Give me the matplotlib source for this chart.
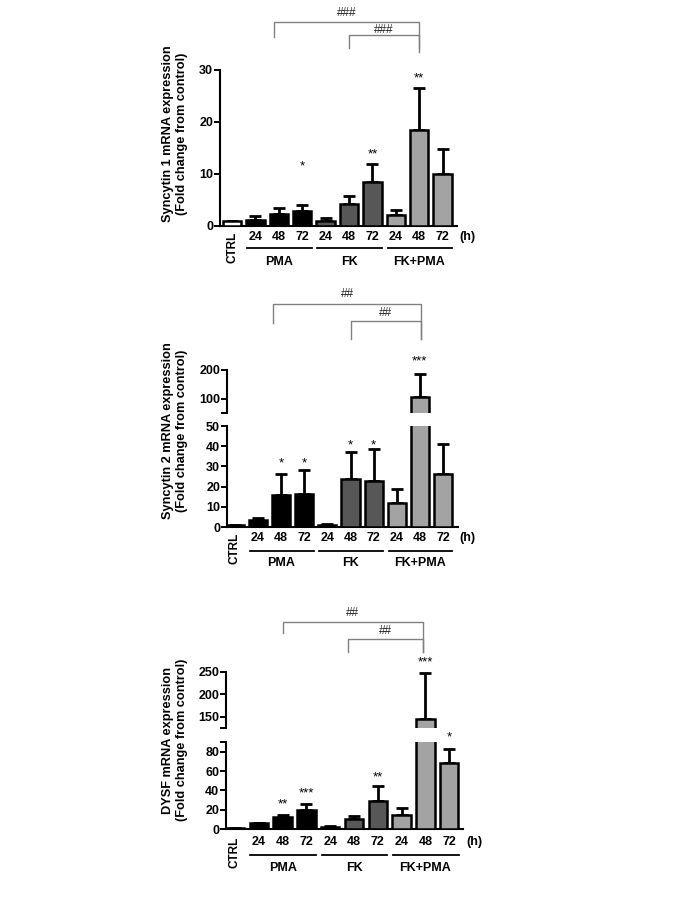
import numpy as np
import matplotlib
matplotlib.use('Agg')
import matplotlib.pyplot as plt
import matplotlib.transforms as mtransforms

plt.rcParams['font.family'] = ['Liberation Sans', 'DejaVu Sans']

# ================= DATA =================
CONDITIONS = ['CTRL', 'PMA 24', 'PMA 48', 'PMA 72', 'FK 24', 'FK 48', 'FK 72',
              'FK+PMA 24', 'FK+PMA 48', 'FK+PMA 72']
HOURS = ['24', '48', '72']
GROUPS = ['PMA', 'FK', 'FK+PMA']
COLORS = ['white'] + ['black'] * 3 + ['#575757'] * 3 + ['#a3a3a3'] * 3

# Syncytin 1
syn1_mean = [1.0, 1.2, 2.4, 2.9, 1.0, 4.3, 8.5, 2.1, 18.4, 10.0]
syn1_top = [np.nan, 2.0, 3.5, 4.0, 1.5, 5.8, 12.0, 3.0, 26.5, 14.8]
syn1_stars = [(3, '*', 11.5), (6, '**', 13.8), (8, '**', 28.3)]

# Syncytin 2
syn2_mean = [1.0, 3.5, 16.0, 16.5, 1.0, 24.0, 23.0, 12.0, 105.0, 26.0]
syn2_top = [np.nan, 4.5, 26.0, 28.0, 1.5, 37.0, 38.5, 19.0, 185.0, 41.0]
syn2_stars = [(2, '*', 31.7), (3, '*', 31.7), (5, '*', 40.6), (6, '*', 40.6), (8, '***', 231)]

# DYSF
dysf_mean = [1.0, 6.0, 12.0, 20.0, 2.0, 10.0, 29.0, 14.0, 145.0, 68.0]
dysf_top = [np.nan, 6.5, 14.0, 26.0, 3.0, 13.5, 44.0, 22.0, 248.0, 83.0]
dysf_stars = [(2, '**', 25.6), (3, '***', 37), (6, '**', 53), (8, '***', 272), (9, '*', 95)]

# ================= LAYOUT (pixels) =================
W, H = 683, 913
fig = plt.figure(figsize=(W / 100, H / 100), dpi=100)


def add_ax(left, top, right, bottom):
    return fig.add_axes([left / W, 1 - bottom / H, (right - left) / W, (bottom - top) / H])


def style_ax(ax, bottom=True):
    for s in ['top', 'right']:
        ax.spines[s].set_visible(False)
    ax.spines['left'].set_linewidth(1.5)
    ax.spines['bottom'].set_linewidth(1.5)
    if not bottom:
        ax.spines['bottom'].set_visible(False)
    ax.tick_params(axis='y', direction='out', length=4, width=1.4, labelsize=9, pad=1)
    ax.tick_params(axis='x', bottom=False, labelbottom=False)
    for lab in ax.get_yticklabels():
        lab.set_fontweight('bold')


def draw_bars(ax, mean, top, xlim):
    x = np.arange(len(mean))
    mean = np.array(mean)
    err = np.array(top) - mean
    ax.bar(x, mean, width=0.78, color=COLORS, edgecolor='black', linewidth=1.8, zorder=3)
    ax.errorbar(x, mean, yerr=[np.zeros_like(err), err], fmt='none', ecolor='black',
                elinewidth=2, capsize=4, capthick=2, zorder=2)
    ax.set_xlim(*xlim)


def draw_xlabels(ax, ax_h, off_num, off_line, off_grp):
    tr = mtransforms.blended_transform_factory(ax.transData, ax.transAxes)
    yn, yl, yg = -off_num / ax_h, -off_line / ax_h, -off_grp / ax_h
    ax.text(0, yn + 5 / ax_h, CONDITIONS[0], transform=tr, rotation=90, ha='center', va='top',
            fontsize=8.5, fontweight='bold')
    for g, name in enumerate(GROUPS):
        first = 1 + 3 * g
        for k, h in enumerate(HOURS):
            ax.text(first + k, yn, h, transform=tr, ha='center', va='center',
                    fontsize=9, fontweight='bold')
        ax.plot([first - 0.35, first + 2.4], [yl, yl], transform=tr, color='black',
                lw=1.3, clip_on=False)
        ax.text(first + 1, yg, name, transform=tr, ha='center', va='center',
                fontsize=9, fontweight='bold')
    ax.text(10.05, yn, '(h)', transform=tr, ha='center', va='center', fontsize=9,
            fontweight='bold')


def draw_stars(ax_lookup, stars):
    for idx, s, yv in stars:
        ax = ax_lookup(yv)
        ax.text(idx, yv, s, ha='center', va='center', fontsize=9.5, clip_on=False)


def draw_bracket(ax, x0, x1, y_line, y_left, y_right, label, y_text):
    tr = mtransforms.blended_transform_factory(ax.transData, fig.transFigure)
    f = lambda p: 1 - p / H
    ax.plot([x0, x0, x1, x1], [f(y_left), f(y_line), f(y_line), f(y_right)], transform=tr,
            color='#808080', lw=1.0, clip_on=False)
    ax.text((x0 + x1) / 2, f(y_text), label, transform=tr, ha='center', va='center',
            fontsize=8.5, color='#222222')


def ylabel(text, x, y):
    fig.text(x / W, 1 - y / H, text, rotation=90, ha='center', va='center',
             fontsize=9.2, fontweight='bold', multialignment='center', linespacing=1.3)


def xlim_for(left, c0, step, right):
    return (-(c0 - left) / step, (right - c0) / step)


# ================= PANEL 1 =================
ax1 = add_ax(220, 70, 457, 226)
draw_bars(ax1, syn1_mean, syn1_top, xlim_for(220, 232, 23.4, 457))
ax1.set_ylim(0, 30)
ax1.set_yticks([0, 10, 20, 30])
style_ax(ax1)
draw_xlabels(ax1, 156, 11, 22, 36)
draw_stars(lambda v: ax1, syn1_stars)
draw_bracket(ax1, 1.8, 8, 22, 37, 52, '###', 13)
draw_bracket(ax1, 5, 8, 35, 48, 48, '###', 30)
ylabel('Syncytin 1 mRNA expression\n(Fold change from control)', 175, 134)

# ================= PANEL 2 =================
xl2 = xlim_for(227, 235, 23.1, 458)
ax2u = add_ax(227, 370, 458, 413)
ax2l = add_ax(227, 426, 458, 527)
for a in (ax2u, ax2l):
    draw_bars(a, syn2_mean, syn2_top, xl2)
ax2u.set_ylim(50, 200)
ax2u.set_yticks([50, 100, 200])
ax2u.set_yticklabels(['', '100', '200'])
ax2l.set_ylim(0, 50)
ax2l.set_yticks([0, 10, 20, 30, 40, 50])
style_ax(ax2u, bottom=False)
style_ax(ax2l)
draw_xlabels(ax2l, 101, 11, 24, 36)
draw_stars(lambda v: ax2u if v > 50 else ax2l, syn2_stars)
draw_bracket(ax2l, 1.65, 8.05, 304, 323, 339, '##', 294)
draw_bracket(ax2l, 5, 8.05, 321, 339, 339, '##', 313)
ylabel('Syncytin 2 mRNA expression\n(Fold change from control)', 175, 431)

# ================= PANEL 3 =================
xl3 = xlim_for(226, 235, 23.8, 463)
ax3u = add_ax(226, 672, 463, 728)
ax3l = add_ax(226, 742, 463, 829)
for a in (ax3u, ax3l):
    draw_bars(a, dysf_mean, dysf_top, xl3)
ax3u.set_ylim(125, 250)
ax3u.set_yticks([125, 150, 200, 250])
ax3u.set_yticklabels(['', '150', '200', '250'])
ax3l.set_ylim(0, 90)
ax3l.set_yticks([0, 20, 40, 60, 80, 90])
ax3l.set_yticklabels(['0', '20', '40', '60', '80', ''])
style_ax(ax3u, bottom=False)
style_ax(ax3l)
draw_xlabels(ax3l, 87, 13, 26, 39)
draw_stars(lambda v: ax3u if v > 125 else ax3l, dysf_stars)
draw_bracket(ax3l, 2, 7.9, 622, 633, 652, '##', 613)
draw_bracket(ax3l, 4.75, 7.9, 639, 652, 652, '##', 631)
ylabel('DYSF mRNA expression\n(Fold change from control)', 175, 740)

fig.savefig('out.png', dpi=100)
